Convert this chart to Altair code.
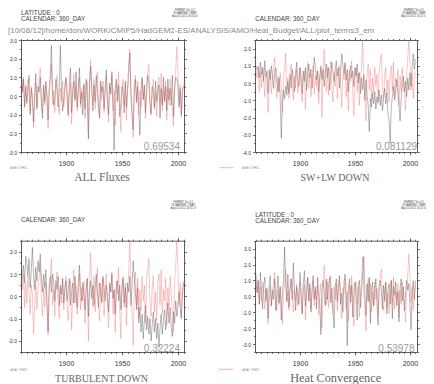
import math
import altair as alt
import pandas as pd

# ---------------- data (annual values, 1860-2005) ----------------
YEARS = list(range(1860, 2006))

OHC_TENDENCY = [
    0.8, 0.3, 1.0, -0.5, 0.6, -0.3, 0.9, 0.2, -0.8, 0.5,
    0.1, -1.7, -0.4, 0.7, -0.6, 0.3, 0.9, 1.5, -0.2, -0.9,
    0.4, -0.5, 0.6, -0.3, -1.75, 0.2, 0.8, 1.7, -0.4, 0.3,
    -0.9, 0.6, 1.1, -0.2, -1.0, 0.4, -0.3, 0.8, -0.6, 0.2,
    0.9, -0.4, -1.1, 0.3, 0.7, -1.5, 0.1, 1.2, -0.3, 0.5,
    -0.8, 0.2, 1.0, -0.6, 0.4, -0.2, 0.7, -1.2, 0.3, 0.8,
    -2.0, 0.5, 1.95, 0.6, -0.5, 0.9, -0.7, 0.3, 1.3, -0.4,
    -1.1, 0.6, -0.2, 0.8, -0.9, 0.4, 1.0, -0.3, -1.4, 0.5,
    0.2, 1.1, -0.8, 0.3, -1.6, 0.7, 0.1, 1.3, -0.6, -1.9,
    0.4, 0.9, -0.5, 0.6, -1.3, 0.2, 1.0, 2.5, 0.3, -0.8,
    -2.2, 0.5, 1.1, -0.4, 0.8, -1.0, 0.3, -0.6, 0.9, -0.2,
    0.5, -1.2, 0.7, 1.2, 1.7, -0.3, -0.9, 0.4, 0.9, -0.7,
    0.2, -1.1, 0.6, 1.0, -0.4, 1.2, -0.8, 0.3, -0.2, 0.8,
    -1.3, 0.4, -0.5, 0.9, 0.1, -0.6, -1.6, 0.5, 1.4, 2.65,
    1.2, -0.4, 0.6, -0.9, 0.2, 0.7,
]

ALL_FLUXES = [
    1.9, 0.2, 0.9, -0.6, 0.5, -0.4, 0.3, 1.1, -1.0, 0.4,
    -0.2, -1.4, 0.1, 1.2, -0.7, 0.5, 0.2, 1.0, -0.4, -1.2,
    0.6, -0.3, 0.8, 0.1, -1.3, 0.4, 1.1, 2.7, 0.3, -0.5,
    -0.1, 0.9, 0.3, -0.6, 0.5, 2.7, 0.2, -0.8, -0.2, 0.6,
    1.0, 0.1, -1.0, 0.7, 1.5, -0.9, 0.3, 0.8, -0.2, 1.3,
    -0.6, 0.4, 1.5, -0.4, 0.2, -1.0, 0.6, -0.7, 0.9, 0.1,
    -2.3, 0.7, 1.6, 0.3, -0.8, 0.6, -0.3, 1.1, 0.4, -0.6,
    -1.2, 0.8, 0.2, 0.5, -0.7, 0.3, 1.4, -0.2, -1.0, 0.7,
    0.1, 1.3, -0.5, -2.9, 0.4, 0.9, -0.3, 0.6, -1.1, -0.4,
    0.5, 0.2, -0.9, 0.8, -0.6, 0.4, 1.6, 2.3, 0.1, -1.0,
    -1.8, 0.3, 0.9, -0.3, 0.5, -0.8, -2.1, 0.4, 1.0, -0.2,
    0.6, -0.9, 0.2, 1.1, 0.7, -0.4, -1.0, 0.5, 0.3, -0.6,
    0.8, -0.3, 0.2, 0.6, -1.2, 0.4, -0.5, 1.0, -0.3, 0.5,
    -0.8, 0.9, -0.2, 0.4, -0.5, 1.1, -1.1, 0.3, 1.0, 0.9,
    0.5, -0.6, 0.4, -1.1, 0.3, 0.5,
]

SW_LW_DOWN = [
    1.0, 0.8, 0.9, 0.3, 1.2, 0.5, 0.9, 0.1, 1.3, 0.4,
    0.7, -0.6, 0.8, 0.2, 1.0, 0.4, -0.3, 0.6, 0.9, 0.1,
    -0.5, 0.3, -0.8, -3.2, -1.2, -0.4, -0.9, -0.2, -0.7, 0.1,
    -0.6, 0.5, -0.3, 0.8, 0.2, -0.5, 0.6, 1.2, 0.3, -0.2,
    0.9, 0.4, -0.6, 0.7, 0.1, 0.9, -0.4, 0.5, 1.1, 0.3,
    0.8, -0.3, 0.6, 1.5, 0.9, 0.2, 0.7, -0.5, 0.4, 1.0,
    0.2, 0.8, -0.2, 0.6, 1.1, 0.3, 0.9, -0.4, 0.5, 1.2,
    0.6, 0.1, 0.8, 1.3, 0.4, 0.9, -0.3, 0.7, 1.7, 1.0,
    0.5, 1.2, 0.2, 0.8, -0.5, 0.6, 1.0, 0.3, 0.7, -0.2,
    0.9, 0.4, 1.1, 0.0, 0.6, -0.6, 0.3, -0.4, 0.5, -1.0,
    0.2, -0.7, -1.3, -2.8, -0.9, -1.4, -0.6, -1.2, -0.5, -1.5,
    -0.8, -1.1, -0.4, -1.3, -0.7, -1.6, -0.9, -0.3, -1.2, -0.6,
    -1.8, -2.1, -3.5, -1.4, -0.8, -0.2, -1.0, -0.5, 0.2, -0.6,
    -1.2, -2.2, -0.9, -0.3, 0.4, -0.5, 0.1, -0.8, 0.3, -0.4,
    0.6, -0.2, 0.9, 1.7, 0.8, 1.4,
]

TURBULENT_DOWN = [
    0.3, 1.0, 1.4, 0.6, 1.8, 1.5, 0.9, 1.7, 0.4, 1.2,
    2.2, 1.0, 0.3, 1.3, 0.7, 1.6, 1.1, 1.9, 0.8, 0.2,
    1.0, 0.4, 1.2, -0.3, -1.6, 0.5, 0.9, 0.2, 1.0, 0.6,
    -0.2, 0.7, 0.3, 0.9, -0.4, 0.5, 0.1, 0.8, -0.3, 0.4,
    0.7, -0.2, 0.3, 0.8, -0.4, 0.2, 0.6, -0.3, 0.9, 0.1,
    -0.5, 0.5, 1.4, 0.3, -0.2, 0.6, 0.0, -0.6, 0.4, 0.8,
    -0.9, 0.2, 0.7, -0.1, 0.5, -0.4, 0.3, 1.0, 0.2, -0.5,
    0.6, 0.1, -0.3, 0.9, 0.4, -0.2, 0.5, 0.0, -0.7, 0.6,
    0.2, 1.0, -0.1, 0.3, -0.8, 0.4, 0.7, -0.2, 0.5, -0.6,
    0.3, 0.8, -0.3, 0.4, -0.5, 0.6, 0.2, 0.9, -0.4, 0.5,
    1.6, 0.8, 0.2, -0.6, 0.4, -1.2, -0.5, -1.6, -0.8, -1.9,
    -1.1, -0.4, -1.5, -0.9, -1.7, -1.0, -2.0, -1.3, -0.7, -1.6,
    -1.0, -1.9, -1.2, -2.3, -1.4, -0.8, -1.7, -1.1, -0.6, -1.5,
    -0.9, -0.3, -1.2, -0.5, -1.4, -1.8, -0.7, -1.2, -0.2, -0.9,
    -0.3, 0.2, -0.5, -1.0, 0.1, 0.6,
]

HEAT_CONVERGENCE = [
    1.4, 0.2, 1.0, -0.5, 1.5, 0.3, -0.8, 0.7, 1.2, -0.3,
    0.5, -1.4, 0.8, 1.3, -0.6, 0.4, -0.2, 1.1, -0.9, 0.3,
    1.3, -0.4, 0.6, -1.5, 0.2, 1.0, 3.1, 0.8, -0.3, 1.4,
    -0.7, 0.5, 1.1, -0.2, 2.1, 0.4, -0.9, 0.6, 0.1, -0.5,
    1.5, 0.3, -1.1, 0.7, 1.6, -0.6, 0.4, 1.2, -0.3, 0.8,
    -1.0, 0.5, 1.3, -0.2, 0.6, -0.8, 1.2, 0.1, -0.5, -2.4,
    0.4, 1.0, 0.3, -0.6, 1.1, -0.2, 0.7, 1.2, -0.4, 0.5,
    -0.9, -2.0, 0.6, 1.1, -0.3, 0.8, 1.3, -0.5, 0.2, -1.0,
    0.9, 1.4, 0.1, -3.1, 0.5, 1.1, -0.4, 0.7, -1.3, 0.3,
    0.9, -0.2, -1.5, 0.6, 1.0, -0.7, 0.4, 1.3, 2.5, 0.2,
    -1.2, 0.8, -0.3, 1.2, -1.7, 0.4, 0.9, -0.6, 0.5, 1.1,
    -0.4, -1.8, 0.6, 1.0, 0.3, -0.8, 0.7, -0.3, 0.9, -1.1,
    0.4, 0.8, -0.5, 1.0, -1.4, 0.6, 0.1, 0.9, -0.6, 0.3,
    -1.6, 0.5, 1.1, -0.3, 0.6, -0.9, 0.2, 1.0, 0.4, 0.8,
    -0.5, -2.1, 0.3, 1.0, -0.2, 1.0,
]

PANEL_SERIES = [ALL_FLUXES, SW_LW_DOWN, TURBULENT_DOWN, HEAT_CONVERGENCE]
PANEL_TITLES = ["ALL Fluxes", "SW+LW DOWN", "TURBULENT DOWN", "Heat Convergence"]
CORRELATIONS = ["0.69534", "0.081129", "0.32224", "0.53978"]
Y_DOMAINS = [[-3.0, 3.0], [-4.0, 2.5], [-2.5, 2.5], [-3.5, 3.5]]
X_LABEL_YEARS = [1900, 1950, 2000]
MINOR_YEARS = list(range(1860, 2006, 5))
PATH_TEXT = "[10/08/12]/home/don/WORK/CMIP5/HadGEM2-ES/ANALYSIS/AMO/Heat_Budget/ALL/plot_terms3_em"
LEGEND_LABEL = "d/dt OHC"
CALENDAR_TEXT = "CALENDAR: 360_DAY"
LATITUDE_TEXT = "LATITUDE : 0"
SHOW_LATITUDE = [True, False, False, True]
STAMPS = [
    ["FERRET Ver. 6.1", "NOAA/PMEL TMAP", "Aug 10 2012 16:05:41"],
    ["FERRET Ver. 6.1", "NOAA/PMEL TMAP", "Aug 10 2012 16:21:17"],
    ["FERRET Ver. 6.1", "NOAA/PMEL TMAP", "Aug 10 2012 16:31:17"],
    ["FERRET Ver. 6.1", "NOAA/PMEL TMAP", "Aug 10 2012 16:21:18"],
]

# ---------------- layout / style ----------------
W, H = 418, 376
SANS = "Liberation Sans"
SERIF = "Liberation Serif"
AXIS_COLOR = "#333333"

LAYOUT = [
    dict(x0=13, x1=176, y0=144, y1=32, xdom=[1859.8, 2005.4]),
    dict(x0=247, x1=409, y0=144, y1=32, xdom=[1859.1, 2006.4]),
    dict(x0=13, x1=176, y0=344, y1=232.7, xdom=[1859.8, 2005.4]),
    dict(x0=247, x1=409, y0=344, y1=232.7, xdom=[1859.1, 2006.4]),
]
TEXT_POS = [
    dict(lat=(13, 7.3), cal=(13, 13.3), stamp=(177, 2.5), corr=(172, 141.5),
         title=(94, 173), leg_line=None, leg_text=(2, 161.3)),
    dict(lat=None, cal=(247.3, 13.3), stamp=(406, 2.5), corr=(409, 141.5),
         title=(327, 173), leg_line=(211, 226, 159.7), leg_text=(234, 161.3)),
    dict(lat=None, cal=(13, 214), stamp=(175.5, 194.5), corr=(172, 343.5),
         title=(93.5, 374), leg_line=None, leg_text=(2, 363)),
    dict(lat=(247.3, 208.7), cal=(247.3, 214.7), stamp=(406, 194.5), corr=(406.5, 343.5),
         title=(327.7, 373.7), leg_line=(210.7, 225.7, 361.3), leg_text=(234, 363)),
]
TITLE_SIZES = [11.5, 10, 10, 12.3]
HYPHEN_LABEL = "replace(datum.label, '\u2212', '-')"


def x_axis(orient, values, labels, size, offset, domain=True):
    return alt.Axis(orient=orient, values=values, labels=labels, tickSize=size,
                    domain=domain, offset=offset, title=None, grid=False,
                    labelFlush=False, labelOverlap=False, format="d",
                    labelFontSize=7, labelPadding=4, labelColor="#333333",
                    labelFont=SANS, domainColor=AXIS_COLOR, domainWidth=0.8,
                    tickColor=AXIS_COLOR, tickWidth=0.7)


def y_axis(orient, values, labels, size, offset, domain=True):
    return alt.Axis(orient=orient, values=values, labels=labels, tickSize=size,
                    domain=domain, offset=offset, title=None, grid=False,
                    labelFlush=False, labelOverlap=False, format=".1f",
                    labelExpr=HYPHEN_LABEL,
                    labelFontSize=5, labelPadding=2, labelColor="#333333",
                    labelFont=SANS, domainColor=AXIS_COLOR, domainWidth=0.8,
                    tickColor=AXIS_COLOR, tickWidth=0.7)


def panel(i):
    L = LAYOUT[i]
    lo, hi = Y_DOMAINS[i]
    df = pd.DataFrame({"year": YEARS, "ohc": OHC_TENDENCY, "flux": PANEL_SERIES[i]})
    xs = alt.Scale(domain=L["xdom"], range=[L["x0"], L["x1"]], nice=False, zero=False, clamp=True)
    ys = alt.Scale(domain=[lo, hi], range=[L["y0"], L["y1"]], nice=False, zero=False, clamp=True)
    major_y = [float(v) for v in range(math.ceil(lo), math.floor(hi) + 1)]
    minor_y = [v + 0.5 for v in range(math.floor(lo), math.ceil(hi)) if lo <= v + 0.5 <= hi]

    off_left, off_right = -L["x0"], L["x1"] - W
    off_bottom, off_top = L["y0"] - H, -L["y1"]

    base = alt.Chart(df)
    black = base.mark_line(color="#333333", strokeWidth=0.5, opacity=0.7).encode(
        x=alt.X("year:Q", scale=xs, axis=x_axis("bottom", X_LABEL_YEARS, True, 3, off_bottom)),
        y=alt.Y("flux:Q", scale=ys, axis=y_axis("left", major_y, True, 2.5, off_left)),
    )
    minor_a = base.mark_line(strokeOpacity=0).encode(
        x=alt.X("year:Q", scale=xs, axis=x_axis("bottom", MINOR_YEARS, False, 1.5, off_bottom, False)),
        y=alt.Y("flux:Q", scale=ys, axis=y_axis("left", minor_y, False, 1.5, off_left, False)),
    )
    minor_b = base.mark_line(strokeOpacity=0).encode(
        x=alt.X("year:Q", scale=xs, axis=x_axis("top", MINOR_YEARS, False, 1.5, off_top, False)),
        y=alt.Y("flux:Q", scale=ys, axis=y_axis("right", minor_y, False, 1.5, off_right, False)),
    )
    red = base.mark_line(color="#ee4848", strokeWidth=0.5, opacity=0.6).encode(
        x=alt.X("year:Q", scale=xs, axis=x_axis("top", X_LABEL_YEARS, False, 3, off_top)),
        y=alt.Y("ohc:Q", scale=ys, axis=y_axis("right", major_y, False, 2.5, off_right)),
    )
    return alt.layer(black, minor_a, minor_b, red).resolve_axis(x="independent", y="independent")


def label(text, pos, size, color, font=SANS, align="left", baseline="alphabetic", **kw):
    return alt.Chart().mark_text(text=text, align=align, baseline=baseline, fontSize=size,
                                 color=color, font=font, **kw).encode(
        x=alt.value(pos[0]), y=alt.value(pos[1]))


layers = [panel(i) for i in range(4)]
for i in range(4):
    P = TEXT_POS[i]
    if SHOW_LATITUDE[i]:
        layers.append(label(LATITUDE_TEXT, P["lat"], 6.3, "#444444"))
    layers.append(label(CALENDAR_TEXT, P["cal"], 6.3, "#444444"))
    layers.append(label(STAMPS[i], P["stamp"], 2.6, "#444444", align="center", lineHeight=3.1))
    layers.append(label(CORRELATIONS[i], P["corr"], 10, "#9a9a9a", align="right"))
    layers.append(label(PANEL_TITLES[i], P["title"], TITLE_SIZES[i], "#666666", font=SERIF, align="center"))
    layers.append(label(LEGEND_LABEL, P["leg_text"], 4.2, "#888888"))
    if P["leg_line"] is not None:
        lx0, lx1, ly = P["leg_line"]
        layers.append(alt.Chart().mark_rule(color="#f4a0a0", strokeWidth=0.8).encode(
            x=alt.value(lx0), x2=alt.value(lx1), y=alt.value(ly)))

layers.append(label(PATH_TEXT, (0, 24.5), 8.0, "#8a8a8a"))

chart = alt.layer(*layers).resolve_scale(x="independent", y="independent").resolve_axis(
    x="independent", y="independent"
).properties(
    width=W, height=H, autosize=alt.AutoSizeParams(type="none"), padding=0,
    background="white",
).configure_view(strokeWidth=0)

chart.save("out.html", embed_options={"renderer": "svg", "actions": False})
